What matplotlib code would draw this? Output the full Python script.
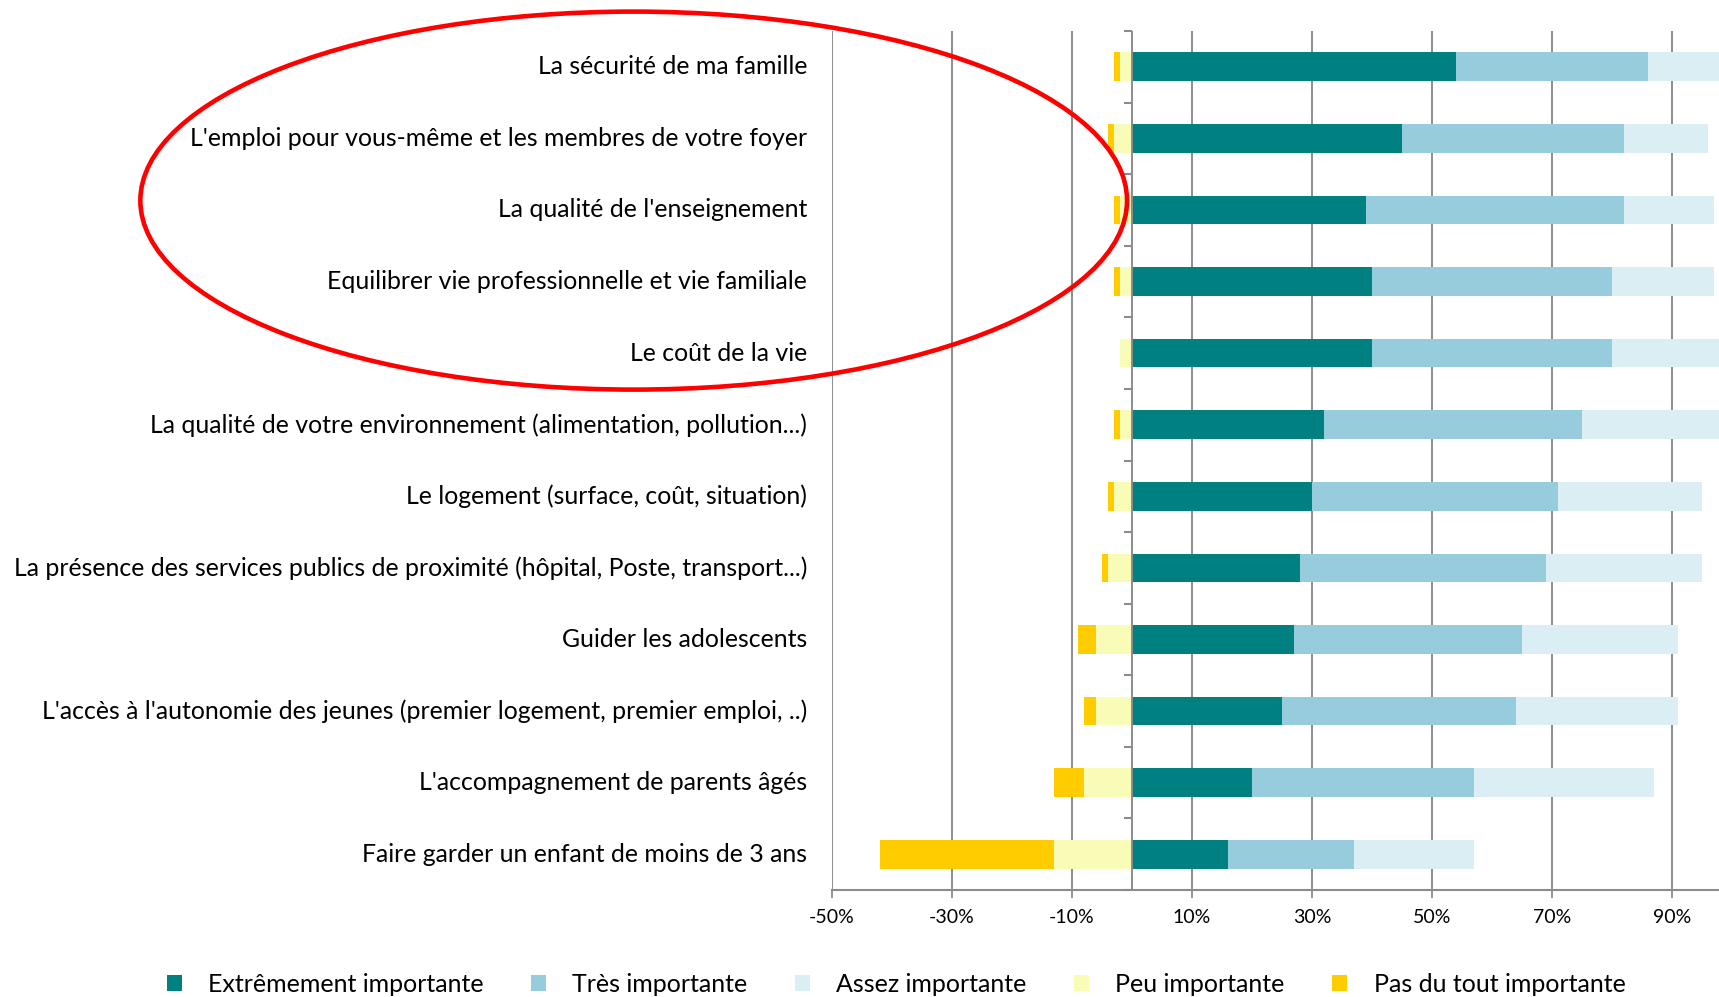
import matplotlib
matplotlib.use("Agg")
import matplotlib.pyplot as plt
import numpy as np
from matplotlib.patches import Ellipse
from matplotlib.transforms import blended_transform_factory

plt.rcParams['font.family'] = ['Lato', 'DejaVu Sans']

categories = [
    "La sécurité de ma famille",
    "L'emploi pour vous-même et les membres de votre foyer",
    "La qualité de l'enseignement",
    "Equilibrer vie professionnelle et vie familiale",
    "Le coût de la vie",
    "La qualité de votre environnement (alimentation, pollution...)",
    "Le logement (surface, coût, situation)",
    "La présence des services publics de proximité (hôpital, Poste, transport...)",
    "Guider les adolescents",
    "L'accès à l'autonomie des jeunes (premier logement, premier emploi, ..)",
    "L'accompagnement de parents âgés",
    "Faire garder un enfant de moins de 3 ans",
]
extremement = [54, 45, 39, 40, 40, 32, 30, 28, 27, 25, 20, 16]
tres = [32, 37, 43, 40, 40, 43, 41, 41, 38, 39, 37, 21]
assez = [13, 14, 15, 17, 19, 23, 24, 26, 26, 27, 30, 20]
peu = [2, 3, 2, 2, 2, 2, 3, 4, 6, 6, 8, 13]
pas_du_tout = [1, 1, 1, 1, 0, 1, 1, 1, 3, 2, 5, 29]

series_names = ["Extrêmement importante", "Très importante", "Assez importante",
                "Peu importante", "Pas du tout importante"]
colors = ["#008080", "#96CCDC", "#DAEEF3", "#F8FCB6", "#FFCC00"]
xticks = list(range(-50, 100, 20))

W, H = 1719, 997
fig = plt.figure(figsize=(W / 100, H / 100), dpi=100)
ax_left, ax_right, ax_top, ax_bottom = 832, 1719, 31, 890
ax = fig.add_axes([ax_left / W, 1 - ax_bottom / H, (ax_right - ax_left) / W, (ax_bottom - ax_top) / H])

y = np.arange(len(categories))
ext = np.array(extremement); tr = np.array(tres); asz = np.array(assez)
pe = np.array(peu); pa = np.array(pas_du_tout)
h = 0.4
b1 = ax.barh(y, ext, height=h, color=colors[0], label=series_names[0], zorder=3)
b2 = ax.barh(y, tr, left=ext, height=h, color=colors[1], label=series_names[1], zorder=3)
b3 = ax.barh(y, asz, left=ext + tr, height=h, color=colors[2], label=series_names[2], zorder=3)
b4 = ax.barh(y, -pe, height=h, color=colors[3], label=series_names[3], zorder=3)
b5 = ax.barh(y, -pa, left=-pe, height=h, color=colors[4], label=series_names[4], zorder=3)

px_per_unit = 6.0
ax.set_xlim(-50, -50 + (ax_right - ax_left) / px_per_unit)
ax.set_ylim(len(categories) - 0.5, -0.5)

grid_c = "#8C8C8C"
for s in ['top', 'right', 'left']:
    ax.spines[s].set_visible(False)
ax.spines['bottom'].set_color(grid_c)
ax.spines['bottom'].set_linewidth(1.5)

ax.set_xticks(xticks)
ax.set_xticklabels([f"{v}%" for v in xticks], fontsize=14, color="#000000")
ax.tick_params(axis='x', length=6, width=1.3, color=grid_c, pad=8)
ax.set_yticks([])
for v in xticks:
    ax.axvline(v, color=grid_c, lw=1.4, zorder=1)

# zero axis with boundary ticks
ax.axvline(0, color=grid_c, lw=1.4, zorder=4)
for b in np.arange(-0.5, len(categories), 1.0):
    ax.plot([-1.4, 0], [b, b], color=grid_c, lw=1.5, zorder=4, clip_on=False, solid_capstyle='butt')

tr_lab = blended_transform_factory(fig.transFigure, ax.transData)
for yi, cat in zip(y, categories):
    ax.text(807 / W, yi, cat, transform=tr_lab, ha='right', va='center', fontsize=17.9, color='#000000')

fig.legend(handles=[b1, b2, b3, b4, b5], labels=series_names, ncol=5, loc='center',
           bbox_to_anchor=(896 / W, 1 - 984 / H), frameon=False, fontsize=18,
           handlelength=0.6, handleheight=0.6, handletextpad=1.05, columnspacing=1.9)

ell = Ellipse((633.7 / W, 1 - 200.6 / H), 986.7 / W, 378 / H, transform=fig.transFigure,
              fill=False, edgecolor='#FF0000', linewidth=3.3, zorder=10)
fig.add_artist(ell)

fig.savefig("out.png", dpi=100)
